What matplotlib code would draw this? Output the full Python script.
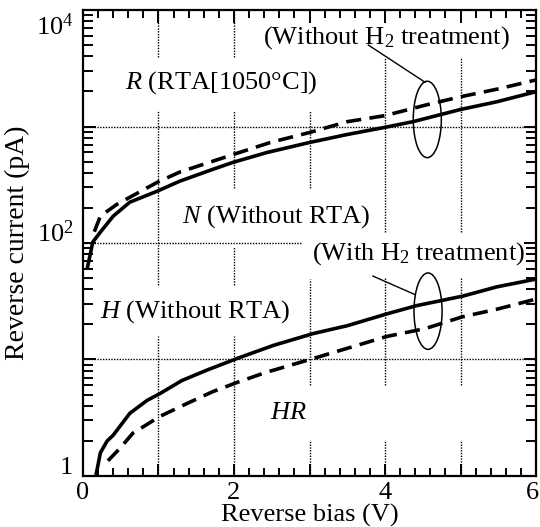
import matplotlib
matplotlib.use("Agg")
import matplotlib.pyplot as plt
import matplotlib.transforms as mtransforms
from matplotlib.patches import Ellipse
from matplotlib.ticker import LogLocator, NullFormatter

plt.rcParams['font.family'] = ['Liberation Serif', 'DejaVu Serif']
plt.rcParams['mathtext.fontset'] = 'custom'
plt.rcParams['mathtext.rm'] = 'Liberation Serif'
plt.rcParams['mathtext.it'] = 'Liberation Serif:italic'

# N: without RTA, without H2 (solid, upper)
bias_N = [0.06, 0.13, 0.23, 0.40, 0.62, 0.98, 1.28, 1.72, 1.99, 2.44, 3.0, 3.5, 4.0, 4.37, 5.0, 5.48, 6.0]
cur_N = [62, 102, 124, 170, 224, 278, 339, 429, 493, 599, 729, 854, 984, 1100, 1400, 1630, 1990]

# R: RTA 1050C, without H2 (dashed, upper)
bias_R = [0.15, 0.23, 0.45, 0.98, 1.28, 1.99, 2.48, 3.0, 3.5, 4.0, 4.56, 5.0, 5.48, 6.0]
cur_R = [125, 170, 215, 331, 406, 575, 729, 888, 1100, 1240, 1540, 1800, 2090, 2510]

# H: without RTA, with H2 (solid, lower)
bias_H = [0.17, 0.23, 0.32, 0.40, 0.62, 0.85, 1.02, 1.31, 1.64, 2.04, 2.52, 3.05, 3.5, 4.03, 4.42, 5.03, 5.48, 6.0]
cur_H = [1.0, 1.58, 2.0, 2.24, 3.45, 4.46, 5.1, 6.6, 8.1, 10.2, 13.2, 16.7, 19.5, 24.7, 29, 35, 42, 49]

# HR: RTA + H2 (dashed, lower)
bias_HR = [0.33, 0.49, 0.66, 1.02, 1.38, 1.72, 2.04, 2.41, 3.05, 3.71, 4.03, 4.53, 5.03, 5.48, 6.0]
cur_HR = [1.35, 1.73, 2.33, 3.25, 4.2, 5.3, 6.35, 7.7, 10.2, 13.7, 15.8, 18.4, 23.3, 27, 33]

x_major = [0, 1, 2, 3, 4, 5, 6]
x_labels = ['0', '', '2', '', '4', '', '6']
y_major = [1, 10, 100, 1000, 1e4]
y_labels = ['1', '', r'10$^2$', '', r'10$^4$']

fs = 19
fig = plt.figure(figsize=(5.4, 5.27), dpi=100)
ax = fig.add_axes([0.1537, 0.0968, 0.8389, 0.8842])
ax.set_xlim(0, 6)
ax.set_yscale('log')
ax.set_ylim(1, 1e4)

# broken dotted grid (gaps left where the labels sit)
dot = dict(color='k', lw=1.0, linestyle=(0, (1, 1)), zorder=1)
vgrid = {
    1: [(3980, 1e4), (44, 1350), (1, 16)],
    2: [(3980, 1e4), (295, 1350), (44, 93), (1, 16)],
    3: [(295, 1350), (6.0, 49), (1, 2.0)],
    4: [(124, 3980), (6.0, 51), (1, 2.0)],
    5: [(124, 3980), (6.0, 51), (1, 2.0)],
}
for xv, segs in vgrid.items():
    for lo, hi in segs:
        ax.plot([xv, xv], [lo, hi], **dot)
ax.plot([0, 6], [1e3, 1e3], **dot)
ax.plot([0, 2.9], [1e2, 1e2], **dot)
ax.plot([0, 6], [10, 10], **dot)

lw = 2.6
dash = (4.2, 2.3)
ax.plot(bias_N, cur_N, color='k', lw=lw, zorder=3)
ax.plot(bias_R, cur_R, color='k', lw=lw, dashes=dash, zorder=3)
ax.plot(bias_H, cur_H, color='k', lw=lw, zorder=3)
ax.plot(bias_HR, cur_HR, color='k', lw=lw, dashes=dash, zorder=3)

# ticks
ax.set_xticks(x_major, x_labels)
ax.set_xticks([i * 0.2 for i in range(31) if i % 5], minor=True)
ax.set_yticks(y_major, y_labels)
ax.yaxis.set_minor_locator(LogLocator(base=10, subs=range(2, 10), numticks=20))
ax.yaxis.set_minor_formatter(NullFormatter())
ax.tick_params(which='both', direction='in', top=True, right=True, width=1.4, labelsize=fs)
ax.tick_params(which='major', length=9)
ax.tick_params(which='minor', length=6)
ax.tick_params(axis='y', which='minor', length=7)
ax.tick_params(axis='y', pad=7)
ax.tick_params(axis='x', pad=4)
for s in ax.spines.values():
    s.set_linewidth(1.6)

# nudge tick labels like the original hand-set ones
for lab, dy in zip(ax.get_yticklabels(), [10, 0, 12, 0, -14]):
    lab.set_transform(lab.get_transform() + mtransforms.ScaledTranslation(0, dy / 100, fig.dpi_scale_trans))
xl = ax.get_xticklabels()
xl[-1].set_transform(xl[-1].get_transform() + mtransforms.ScaledTranslation(-4 / 100, 0, fig.dpi_scale_trans))

ax.set_xlabel('Reverse bias (V)', fontsize=fs, labelpad=0)
ax.set_ylabel('Reverse current (pA)', fontsize=20, labelpad=4)

# labels
ax.text(0.56, 2400, r'$R$ (RTA[1050°C])', fontsize=fs, va='center')
ax.text(1.31, 170, r'$N$ (Without RTA)', fontsize=fs, va='center')
ax.text(0.23, 25.7, r'$H$ (Without RTA)', fontsize=fs, va='center')
ax.text(2.48, 3.47, r'$HR$', fontsize=fs, va='center')
ax.text(4.02, 5750, r'(Without H$_2$ treatment)', fontsize=fs, ha='center', va='center')
ax.text(4.45, 81, r'(With H$_2$ treatment)', fontsize=fs, ha='center', va='center')

# ellipses and leader lines
to_axes = ax.transData + ax.transAxes.inverted()
for cx, cy in [(4.56, 1150), (4.57, 26)]:
    c = to_axes.transform((cx, cy))
    ax.add_patch(Ellipse(c, 0.062, 0.164, transform=ax.transAxes,
                         fill=False, ec='k', lw=1.1, zorder=4))
ax.plot([3.78, 4.53], [5000, 2400], color='k', lw=1.0)
ax.plot([3.84, 4.40], [52, 36], color='k', lw=1.0)

fig.savefig('out.png', dpi=100)
